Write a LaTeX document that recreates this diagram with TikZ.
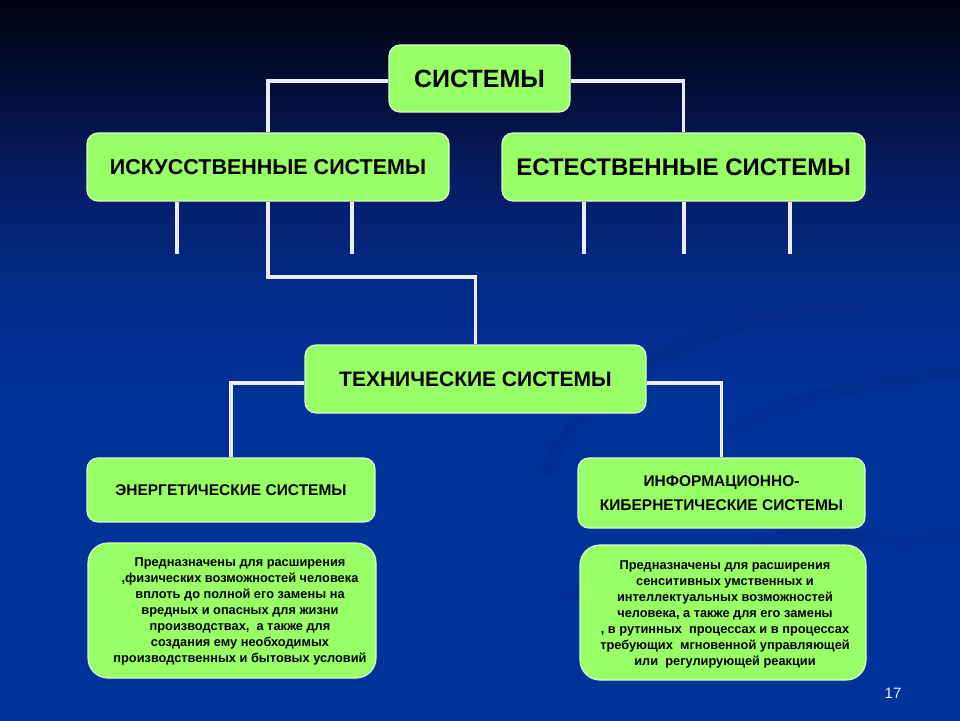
\documentclass[tikz,border=0pt]{standalone}
\usepackage{fontspec}
\setmainfont{Liberation Sans}
\definecolor{boxgreen}{RGB}{153,255,102}
\definecolor{boxedge}{RGB}{220,245,210}
\definecolor{linecol}{RGB}{236,236,248}
\definecolor{bgA}{RGB}{0,2,14}
\definecolor{bgB}{RGB}{2,12,48}
\definecolor{bgC}{RGB}{6,28,100}
\definecolor{bgD}{RGB}{3,45,140}
\definecolor{bgE}{RGB}{0,51,153}
\definecolor{swirl}{RGB}{8,34,115}
\pgfdeclareverticalshading{bgsh}{100bp}{color(0bp)=(bgE); color(25bp)=(bgE); color(47bp)=(bgE); color(54bp)=(bgD); color(62.5bp)=(bgC); color(70bp)=(bgB); color(75bp)=(bgA); color(100bp)=(bgA)}
\tikzset{
  gbox/.style={draw=boxedge, line width=1.2pt, fill=boxgreen, rounded corners=11pt,
    inner sep=0pt, align=center, text=black},
  dbox/.style={gbox, rounded corners=20pt},
  conn/.style={draw=linecol, line width=3.2pt},
}
\begin{document}
\begin{tikzpicture}[x=1pt,y=-1pt]
\useasboundingbox (0,0) rectangle (960,720);
\shade[shading=bgsh] (0,0) rectangle (960,720);
% faint swirls
\begin{scope}[line cap=round]
\draw[swirl, opacity=0.2, line width=14pt] (545,470) .. controls (600,360) and (760,300) .. (860,310);
\draw[swirl, opacity=0.18, line width=12pt] (735,430) .. controls (800,390) and (900,380) .. (960,372);
\draw[swirl, opacity=0.18, line width=12pt] (760,540) .. controls (840,520) and (900,560) .. (960,530);
\draw[swirl, opacity=0.15, line width=10pt] (560,600) .. controls (620,560) and (700,600) .. (760,640);
\end{scope}

% nodes
\node[gbox, minimum width=181pt, minimum height=67pt, font=\bfseries\fontsize{25}{30}\selectfont] (sys) at (479.5,78.5) {СИСТЕМЫ};
\node[gbox, minimum width=362pt, minimum height=68pt, font=\bfseries\fontsize{21.5}{26}\selectfont] (isk) at (268,167) {ИСКУССТВЕННЫЕ СИСТЕМЫ};
\node[gbox, minimum width=363pt, minimum height=68pt, font=\bfseries\fontsize{24}{29}\selectfont] (est) at (683.5,167) {ЕСТЕСТВЕННЫЕ СИСТЕМЫ};
\node[gbox, minimum width=341pt, minimum height=68pt, font=\bfseries\fontsize{21}{25}\selectfont] (tech) at (475.5,379) {ТЕХНИЧЕСКИЕ СИСТЕМЫ};
\node[gbox, minimum width=288pt, minimum height=64pt, font=\bfseries\fontsize{15.5}{19}\selectfont] (energ) at (231,490) {ЭНЕРГЕТИЧЕСКИЕ СИСТЕМЫ};
\node[gbox, minimum width=287pt, minimum height=70pt, font=\bfseries\fontsize{15.5}{24}\selectfont] (info) at (721.5,493) {ИНФОРМАЦИОННО-\\КИБЕРНЕТИЧЕСКИЕ СИСТЕМЫ};
\node[dbox, minimum width=288pt, minimum height=135pt] (descL) at (232,610.5) {};
\node[dbox, minimum width=286pt, minimum height=135pt] (descR) at (723,612.5) {};
\node[align=center, text=black, inner sep=0pt, font=\bfseries\fontsize{12.8}{16}\selectfont] (txtL) at (240,611) {Предназначены для расширения\\,физических возможностей человека\\вплоть до полной его замены на\\вредных и опасных для жизни\\производствах,\ \ а также для\\создания ему необходимых\\производственных и бытовых условий};
\node[align=center, text=black, inner sep=0pt, font=\bfseries\fontsize{12.8}{16}\selectfont] (txtR) at (725,614) {Предназначены для расширения\\сенситивных умственных и\\интеллектуальных возможностей\\человека, а также для его замены\\, в рутинных\ \ процессах и в процессах\\требующих\ \ мгновенной управляющей\\или\ \ регулирующей реакции};
\node[text=linecol, font=\fontsize{15}{18}\selectfont] (pnum) at (893,693) {17};

% coordinates
\coordinate (t1) at (177,254);
\coordinate (t2) at (352,254);
\coordinate (bend) at (268,277);
\coordinate (e1) at (584,254);
\coordinate (e2) at (684,254);
\coordinate (e3) at (790,254);

% connectors
\draw[conn] ([yshift=-2.5pt]sys.west) -| (isk.north);
\draw[conn] ([yshift=-2.5pt]sys.east) -| (est.north);
\draw[conn] (t1 |- isk.south) -- (t1);
\draw[conn] (t2 |- isk.south) -- (t2);
\draw[conn] (isk.south) -- (bend) -| (tech.north);
\draw[conn] (e1 |- est.south) -- (e1);
\draw[conn] (e2 |- est.south) -- (e2);
\draw[conn] (e3 |- est.south) -- (e3);
\draw[conn] ([yshift=-4pt]tech.west) -| (energ.north);
\draw[conn] ([yshift=-4pt]tech.east) -| (info.north);
\end{tikzpicture}
\end{document}
